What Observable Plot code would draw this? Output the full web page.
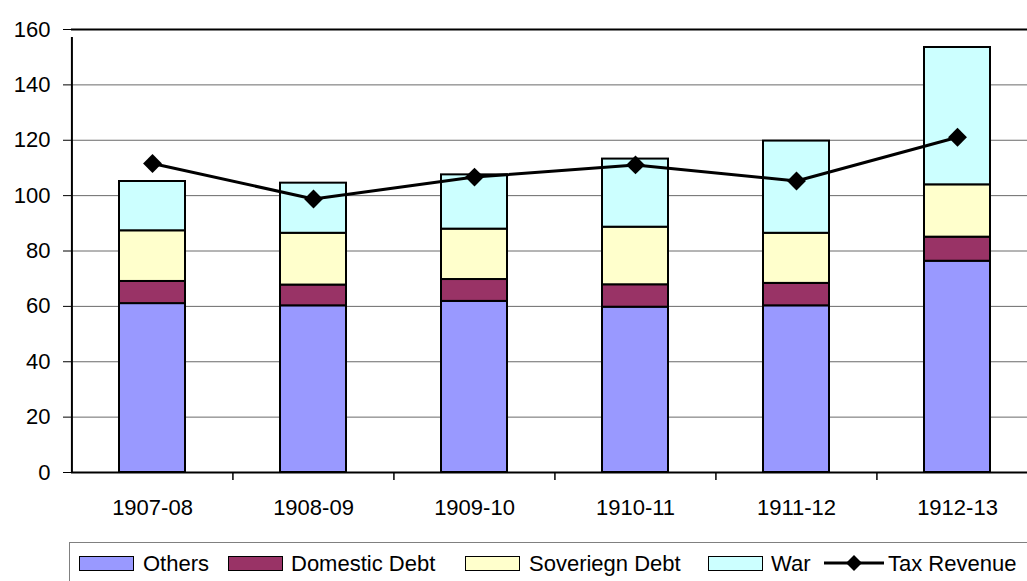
<!DOCTYPE html>
<html>
<head>
<meta charset="utf-8">
<script src="https://cdn.jsdelivr.net/npm/d3@7"></script>
<script src="https://cdn.jsdelivr.net/npm/@observablehq/plot@0.6"></script>
<style>
  html, body { margin: 0; padding: 0; background: #fff; }
  body { width: 1027px; height: 581px; overflow: hidden; position: relative; font-family: "Liberation Sans", Arial, sans-serif; }
  #legend { position: absolute; left: 69px; top: 542px; width: 1000px; height: 50px; border: 1px solid #808080; box-sizing: border-box; font-size: 22px; color: #000; }
  .sw { position: absolute; top: 13px; width: 55px; height: 15px; box-sizing: border-box; border: 1.5px solid #000; }
  .tx { position: absolute; top: 8px; line-height: 26px; white-space: nowrap; }
  .ln { position: absolute; top: 10px; }
</style>
</head>
<body>
<div id="chart"></div>
<div id="legend"></div>
<script>
const years = ["1907-08", "1908-09", "1909-10", "1910-11", "1911-12", "1912-13"];
const seriesNames = ["Others", "Domestic Debt", "Soveriegn Debt", "War"];
const seriesColors = ["#9999FF", "#993366", "#FFFFCC", "#CCFFFF"];
const others = [61.0, 60.2, 61.8, 59.7, 60.2, 76.3];
const domesticDebt = [8.0, 7.5, 7.9, 8.1, 8.1, 8.7];
const sovereignDebt = [18.3, 18.7, 18.2, 20.8, 18.1, 18.9];
const war = [17.8, 18.1, 19.6, 24.6, 33.3, 49.6];
const taxRevenue = [111.6, 98.8, 106.7, 111.1, 105.3, 121.1];
const yTicks = [0, 20, 40, 60, 80, 100, 120, 140, 160];
const lineName = "Tax Revenue";

const seriesValues = [others, domesticDebt, sovereignDebt, war];
const stacked = [];
years.forEach((yr, i) => {
  seriesNames.forEach((s, k) => stacked.push({year: yr, series: s, value: seriesValues[k][i]}));
});
const lineData = years.map((yr, i) => ({year: yr, value: taxRevenue[i]}));

const W = 1027, H = 530, mL = 71, mT = 29, mB = 58;
const xRange = [mL, 1038];
const halfStep = (xRange[1] - xRange[0]) / years.length / 2;

const chart = Plot.plot({
  width: W,
  height: H,
  marginLeft: mL,
  marginTop: mT,
  marginBottom: mB,
  marginRight: 0,
  style: {fontFamily: '"Liberation Sans", Arial, sans-serif', fontSize: "22px", color: "#000", background: "#fff"},
  x: {type: "band", domain: years, range: xRange, paddingInner: 0.59, paddingOuter: 0.295, label: null},
  y: {domain: [0, 160], label: null},
  color: {domain: seriesNames, range: seriesColors},
  marks: [
    Plot.ruleY(yTicks.slice(1, -1), {stroke: "#6a6a6a", strokeWidth: 1}),
    Plot.ruleY([yTicks[yTicks.length - 1]], {stroke: "#000", strokeWidth: 2}),
    Plot.barY(stacked, {x: "year", y: "value", fill: "series", order: seriesNames, stroke: "#000", strokeWidth: 2}),
    Plot.ruleY([0], {stroke: "#000", strokeWidth: 2}),
    Plot.ruleX([years[0]], {x: d => d, dx: -halfStep, y1: 0, y2: 160, insetBottom: -8, stroke: "#000", strokeWidth: 2}),
    Plot.ruleX(years.slice(1), {x: d => d, dx: -halfStep, y1: 0, y2: 0, insetBottom: -8, stroke: "#000", strokeWidth: 1.5}),
    Plot.line(lineData, {x: "year", y: "value", stroke: "#000", strokeWidth: 3}),
    Plot.dot(lineData, {x: "year", y: "value", symbol: "diamond2", r: 8.5, fill: "#000", stroke: "none"}),
    Plot.axisY({ticks: yTicks, tickSize: 8, tickPadding: 13, fontSize: 22, tickFormat: d => String(d), stroke: "#000"}),
    Plot.axisX({tickSize: 0, tickPadding: 27, fontSize: 22})
  ]
});
document.getElementById("chart").appendChild(chart);

// legend (positions relative to legend box at x=69)
const legend = document.getElementById("legend");
const swX = [9, 158, 395, 638];
const txX = [73, 221, 459, 701];
seriesNames.forEach((s, k) => {
  const sw = document.createElement("div");
  sw.className = "sw";
  sw.style.left = swX[k] + "px";
  sw.style.background = seriesColors[k];
  legend.appendChild(sw);
  const tx = document.createElement("div");
  tx.className = "tx";
  tx.style.left = txX[k] + "px";
  tx.textContent = s;
  legend.appendChild(tx);
});
const ln = document.createElementNS("http://www.w3.org/2000/svg", "svg");
ln.setAttribute("class", "ln");
ln.setAttribute("width", "60");
ln.setAttribute("height", "20");
ln.style.left = "754px";
ln.innerHTML = '<line x1="0" y1="10" x2="60" y2="10" stroke="#000" stroke-width="3"/><path d="M30 2 L38 10 L30 18 L22 10 Z" fill="#000"/>';
legend.appendChild(ln);
const lt = document.createElement("div");
lt.className = "tx";
lt.style.left = "818px";
lt.textContent = lineName;
legend.appendChild(lt);
</script>
</body>
</html>
